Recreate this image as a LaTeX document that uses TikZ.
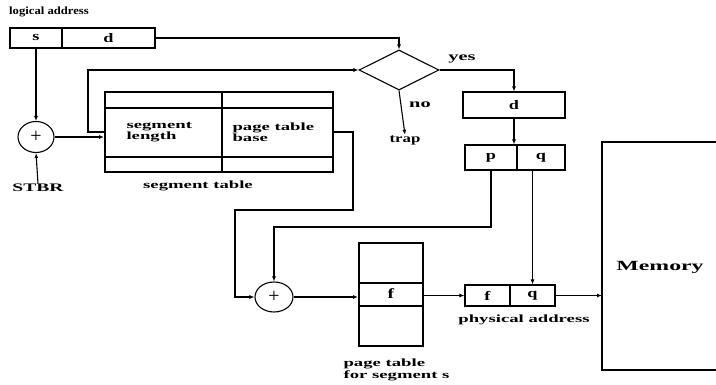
\documentclass[tikz,border=0pt]{standalone}
\usepackage{fontspec}
\setmainfont{Liberation Serif}
\newfontfamily\widea[FakeStretch=1.7]{Liberation Serif Bold}
\newfontfamily\wideb[FakeStretch=1.15]{Liberation Serif Bold}
\newfontfamily\widec[FakeStretch=1.4]{Liberation Serif Bold}
\usetikzlibrary{shapes.geometric,arrows.meta,calc}
\begin{document}
\begin{tikzpicture}[x=1pt,y=-1pt,
  line width=1.1pt,
  >={Latex[length=5pt,width=4pt]},
  cell/.style={draw,rectangle,inner sep=0pt,font=\fontsize{13}{13}\widec},
  lbl/.style={inner sep=0pt,font=\fontsize{11}{11.5}\widea},
  adder/.style={draw,ellipse,inner sep=0pt,minimum width=36pt,minimum height=31pt,font=\fontsize{20}{20}\selectfont},
  thickbox/.style={draw,rectangle,line width=2pt,inner sep=0pt}
]
\useasboundingbox (0,0) rectangle (716,385);

% logical address
\node[lbl,font=\fontsize{11}{11}\wideb] (lal) at (49,12) {logical address};
\node[cell,minimum width=52pt,minimum height=20pt] (sbox) at (36,38) {s};
\node[cell,minimum width=93pt,minimum height=20pt] (dbox) at (108.5,38) {d};

% adder 1 and STBR
\node[adder] (add1) at (36,137) {+};
\node[lbl,font=\fontsize{11.5}{12}\widea] (stbr) at (38,188) {STBR};

% segment table
\node[thickbox,minimum width=228pt,minimum height=80pt] (seg) at (219,132) {};
\draw[line width=1.6pt] (105,108) -- (333,108) (105,157) -- (333,157) (222,92) -- (222,172);
\node[lbl,align=left,anchor=west] (sl) at (126,132) {segment\\length};
\node[lbl,align=left,anchor=west] (ptb) at (232,132) {page table\\base};
\node[lbl] (stl) at (198,186) {segment table};

% diamond
\node[draw,diamond,aspect=2,minimum width=80pt,minimum height=40pt,inner sep=0pt] (dia) at (399,70) {};
\node[lbl,font=\fontsize{12}{12}\widea] (yes) at (462,59) {yes};
\node[lbl,font=\fontsize{12}{12}\widea] (no) at (420,105) {no};
\node[lbl,font=\fontsize{12}{12}\widec] (trap) at (405,140) {trap};

% d box
\node[cell,minimum width=102pt,minimum height=26pt] (dd) at (514,105) {d};
% p q box
\node[cell,minimum width=52pt,minimum height=25pt] (p) at (491,157.5) {p};
\node[cell,minimum width=48pt,minimum height=25pt] (q) at (541,157.5) {q};

% adder 2
\node[adder,minimum width=38pt,minimum height=30pt] (add2) at (274,297) {+};

% page table
\node[thickbox,minimum width=64pt,minimum height=103pt] (pt) at (391,294.5) {};
\draw[line width=1.4pt] (359,283) -- (423,283) (359,306) -- (423,306);
\node[lbl,font=\fontsize{14}{14}\widec] (f1) at (391,294) {f};
\node[lbl,align=left,anchor=west] (ptl) at (343,370) {page table\\for segment s};

% physical address
\node[cell,minimum width=45pt,minimum height=21pt] (pf) at (487.5,295.5) {f};
\node[cell,minimum width=45pt,minimum height=21pt] (pq) at (532.5,295.5) {q};
\node[lbl] (phl) at (524,320) {physical address};

% memory
\coordinate (mtr) at (716,142);
\coordinate (mtl) at (602,142);
\coordinate (mbl) at (602,370);
\coordinate (mbr) at (716,370);
\draw[line width=1.6pt] (mtr) -- (mtl) -- (mbl) -- (mbr);
\node[inner sep=0pt,font=\fontsize{14}{14}\widea] (mem) at (660,267) {Memory};

% junction coordinates
\coordinate (j1) at (0,227);
\coordinate (j2) at (353,210);
\coordinate (j3) at (235,297);
\coordinate (j4) at (88,0);

% connectors
\draw[->] (dbox.east) -| (dia.north);
\draw[->] (sbox.south) -- (add1.north);
\draw[->] (stbr.north) -- (add1.south);
\draw[->] (add1.east) -- (add1.east -| seg.west);
\draw[->] (seg.west) -- (seg.west -| j4) |- (dia.west);
\draw[->] (dia.east) -| (dd.north);
\draw[->] (dia.south) -- (trap.north);
\draw[->] (dd.south) -- (dd.south |- p.north);
\draw[->] (p.south) -- (p.south |- j1) -| (add2.north);
\draw[->] (seg.east) -| (j2) -| (j3) -- (add2.west);
\draw[->] (add2.east) -- (add2.east -| pt.west);
\draw[->] (pt.east |- pf.west) -- (pf.west);
\draw[->] (q.south -| pq.north) -- (pq.north);
\draw[->] (pq.east) -- (pq.east -| mtl);
\end{tikzpicture}
\end{document}
